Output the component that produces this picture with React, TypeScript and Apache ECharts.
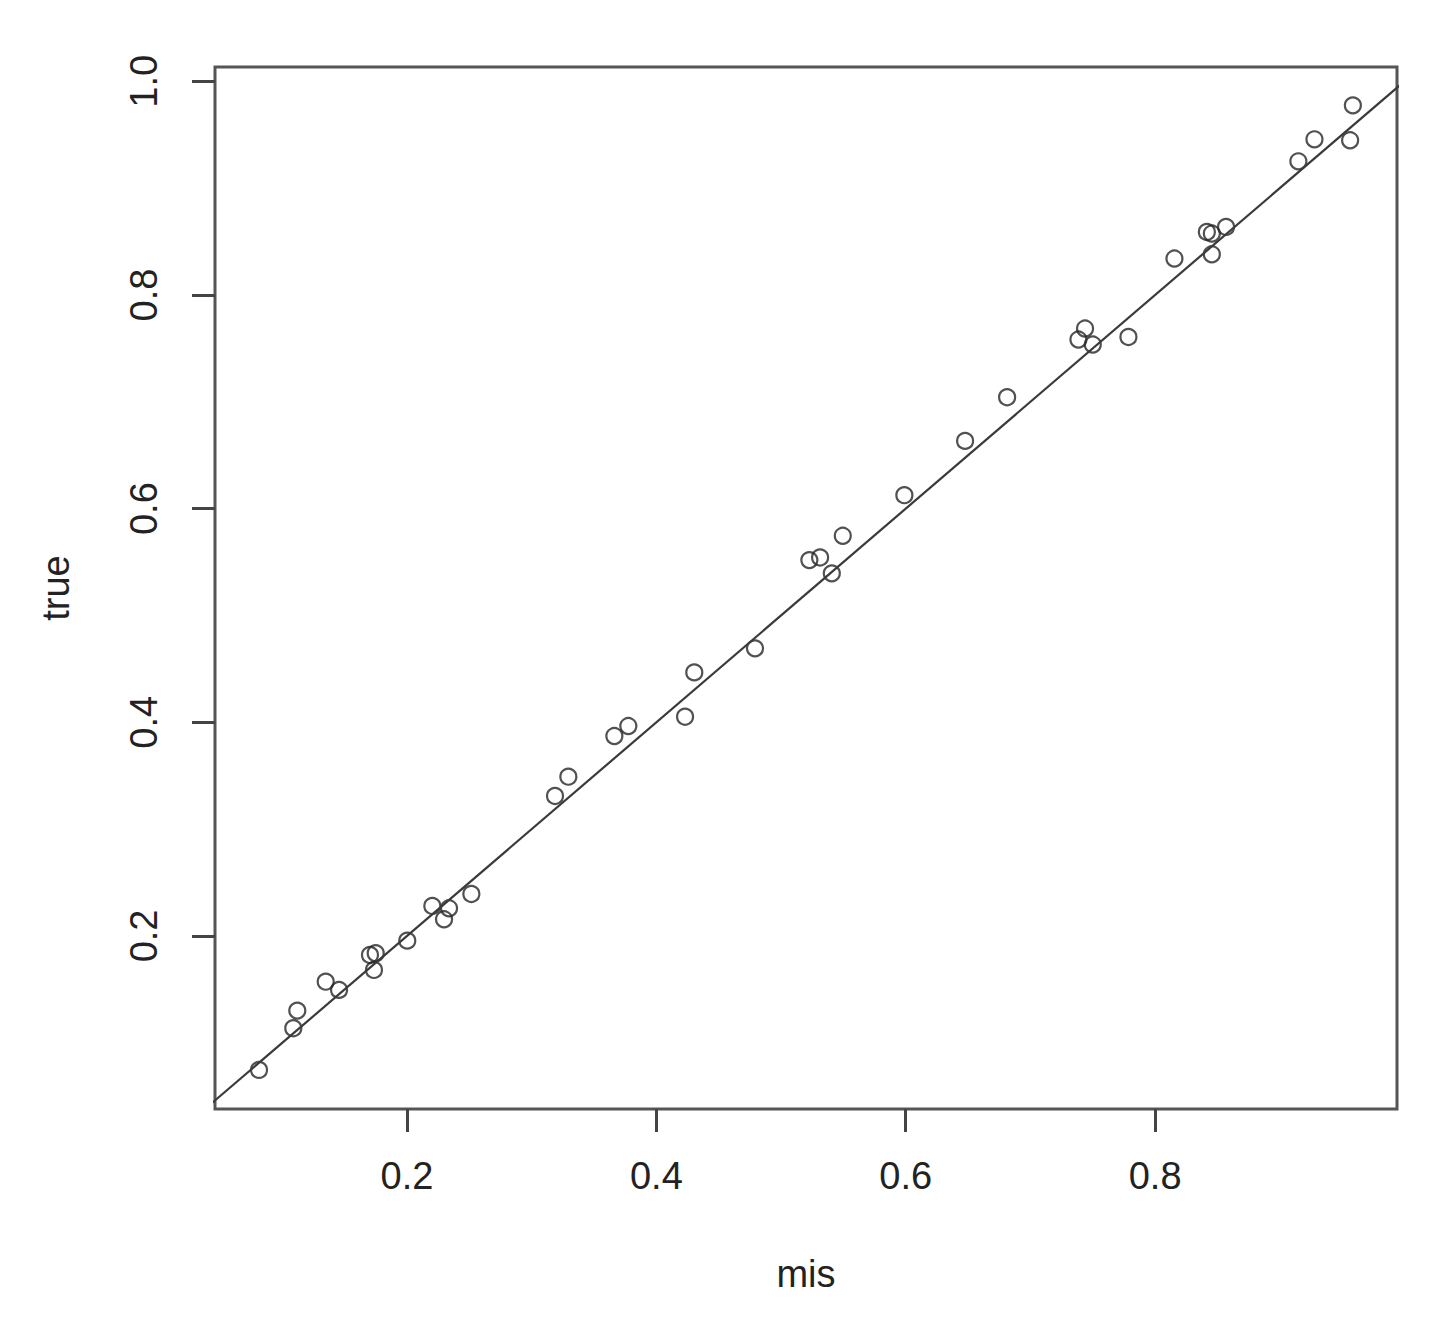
import React, { useEffect, useRef } from "react";
import * as echarts from "echarts";

const misValues = [
  0.0813, 0.1088, 0.112, 0.1348, 0.1455, 0.1703, 0.1749, 0.1735, 0.2002, 0.2203,
  0.2297, 0.2337, 0.2516, 0.3187, 0.3294, 0.3663, 0.3775, 0.423, 0.4304, 0.4791,
  0.5227, 0.5313, 0.5407, 0.5495, 0.5989, 0.6476, 0.6813, 0.7385, 0.7438, 0.75,
  0.7786, 0.8155, 0.8415, 0.8455, 0.8455, 0.8569, 0.9149, 0.9278, 0.9564, 0.9586,
];
const trueValues = [
  0.0746, 0.1136, 0.1301, 0.1572, 0.1495, 0.1822, 0.1838, 0.1682, 0.1956, 0.2281,
  0.2156, 0.2259, 0.2393, 0.331, 0.3491, 0.3871, 0.3965, 0.4052, 0.4467, 0.4692,
  0.5518, 0.5543, 0.5394, 0.5746, 0.6126, 0.6634, 0.7043, 0.7583, 0.7686, 0.7536,
  0.7607, 0.8341, 0.859, 0.8575, 0.8381, 0.8637, 0.9251, 0.9457, 0.9448, 0.9775,
];
const xTicks = [0.2, 0.4, 0.6, 0.8];
const yTicks = [0.2, 0.4, 0.6, 0.8, 1.0];
const xRange = [0.046, 0.994];
const yRange = [0.038, 1.0134];
// reference line: true = mis (intercept 0, slope 1)
const refLine = [
  [0.0, 0.0],
  [1.05, 1.05],
];

const FONT = "'Liberation Sans', Arial, sans-serif";

export default function App() {
  const ref = useRef<HTMLDivElement>(null);
  useEffect(() => {
    if (!ref.current) return;
    const chart = echarts.init(ref.current, null, { renderer: "svg" });
    const tickStyle = { show: true, length: 23, lineStyle: { color: "#444", width: 3 } };
    chart.setOption({
      animation: false,
      backgroundColor: "#ffffff",
      grid: {
        left: 215,
        top: 67,
        right: 47,
        bottom: 213,
        show: true,
        borderColor: "#555",
        borderWidth: 3,
        backgroundColor: "transparent",
      },
      xAxis: {
        type: "value",
        min: xRange[0],
        max: xRange[1],
        name: "mis",
        nameLocation: "middle",
        nameGap: 146,
        nameTextStyle: { fontSize: 38, color: "#222", fontFamily: FONT },
        axisLine: { show: false },
        splitLine: { show: false },
        axisTick: { ...tickStyle, customValues: xTicks },
        axisLabel: {
          customValues: xTicks,
          formatter: (v: number) => v.toFixed(1),
          fontSize: 38,
          color: "#222",
          fontFamily: FONT,
          margin: 48,
        },
      },
      yAxis: {
        type: "value",
        min: yRange[0],
        max: yRange[1],
        name: "true",
        nameLocation: "middle",
        nameGap: 140,
        nameRotate: 90,
        nameTextStyle: { fontSize: 38, color: "#222", fontFamily: FONT },
        axisLine: { show: false },
        splitLine: { show: false },
        axisTick: { ...tickStyle, customValues: yTicks },
        axisLabel: {
          customValues: yTicks,
          formatter: (v: number) => v.toFixed(1),
          rotate: 90,
          fontSize: 38,
          color: "#222",
          fontFamily: FONT,
          margin: 52,
        },
      },
      series: [
        {
          type: "line",
          data: refLine,
          showSymbol: false,
          clip: true,
          lineStyle: { color: "#3a3a3a", width: 2.2 },
          silent: true,
        },
        {
          type: "scatter",
          data: misValues.map((m, i) => [m, trueValues[i]]),
          symbol: "circle",
          symbolSize: 16,
          itemStyle: { color: "transparent", borderColor: "#262626", borderWidth: 2.2 },
        },
      ],
    });
    return () => chart.dispose();
  }, []);
  return (
    <div
      ref={ref}
      style={{ position: "absolute", left: 0, top: 0, width: 1444, height: 1322, background: "#fff" }}
    />
  );
}
